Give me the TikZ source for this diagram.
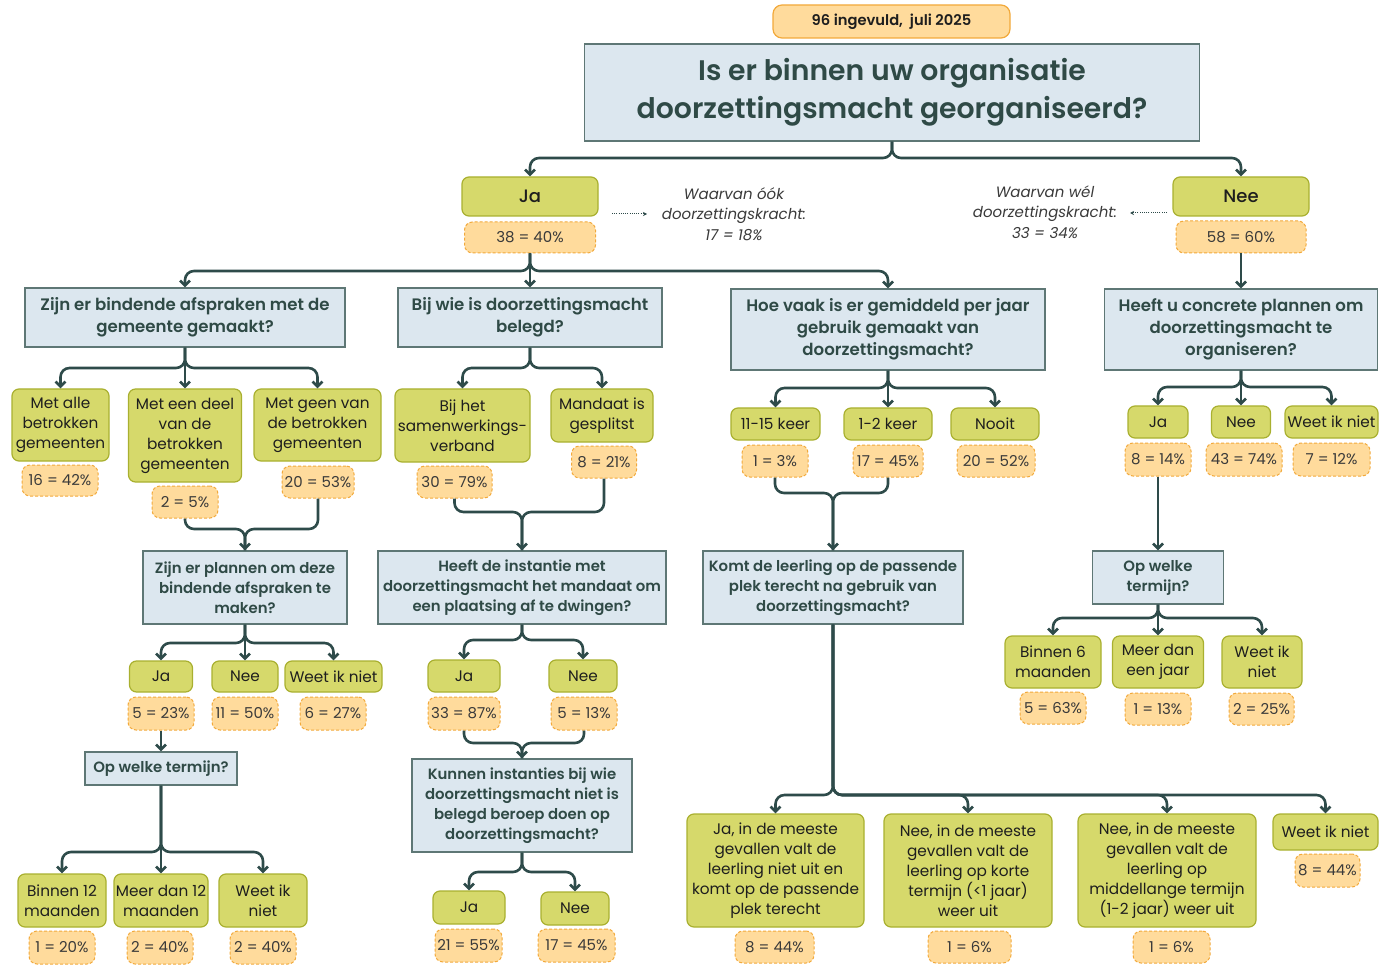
\documentclass[tikz,border=0pt]{standalone}
\usepackage{fontspec}
\setmainfont{Poppins}
\IfFontExistsTF{Poppins SemiBold}{\newfontfamily\mysemib{Poppins SemiBold}}{\newcommand\mysemib{\bfseries}}
\IfFontExistsTF{Poppins Medium}{\newfontfamily\mymed{Poppins Medium}}{\newcommand\mymed{\relax}}
\usetikzlibrary{arrows.meta}
\definecolor{qfill}{HTML}{DCE7EF}
\definecolor{qborder}{HTML}{5E7775}
\definecolor{qtext}{HTML}{2F4A46}
\definecolor{afill}{HTML}{D6D96B}
\definecolor{aborder}{HTML}{A9B030}
\definecolor{atext}{HTML}{1E1E1E}
\definecolor{pfill}{HTML}{FFDB9C}
\definecolor{pborder}{HTML}{F2A93B}
\definecolor{ptext}{HTML}{3A3A3A}
\definecolor{conncol}{HTML}{2E4B4A}
\definecolor{notetext}{HTML}{3A3A3A}
\newcommand\myq{\mysemib\fontsize{16.6}{22}\selectfont}
\newcommand\myqs{\mysemib\fontsize{14.9}{20}\selectfont}
\newcommand\mya{\fontsize{15.3}{20}\selectfont}
\newcommand\myp{\fontsize{15}{18}\selectfont}
\newcommand\myt{\mysemib\fontsize{28.3}{38}\selectfont}
\newcommand\myn{\itshape\fontsize{15}{20.5}\selectfont}
\newcommand\myj{\mymed\fontsize{18}{22}\selectfont}
\newcommand\myi{\mysemib\fontsize{14.7}{18}\selectfont}
\begin{document}
\begin{tikzpicture}[x=1pt,y=-1pt,
  wh/.style 2 args={minimum width=#1pt,minimum height=#2pt},
  q/.style={draw=qborder,fill=qfill,line width=1.3pt,text=qtext,font=\myq,align=center,inner sep=0pt},
  qs/.style={q,font=\myqs},
  ans/.style={draw=aborder,fill=afill,line width=1.2pt,rounded corners=7pt,text=atext,font=\mya,align=center,inner sep=0pt},
  pct/.style={draw=pborder,fill=pfill,line width=1pt,dash pattern=on 3pt off 2pt,rounded corners=8pt,text=ptext,font=\myp,inner sep=0pt},
  info/.style={draw=pborder,fill=pfill,line width=1.2pt,rounded corners=9pt,text=atext,font=\myi,inner sep=0pt},
  note/.style={text=notetext,font=\myn,align=center,inner sep=0pt},
  conn/.style={draw=conncol,line width=2.6pt,rounded corners=9pt},
  arr/.style={conn,-{Straight Barb[length=5pt,width=10pt]}},
  dotarr/.style={draw=conncol,line width=1pt,dash pattern=on 1pt off 1.2pt,-{Stealth[length=4pt,width=4pt]}}]
\useasboundingbox (0,0) rectangle (1379,965);

% top
\node[info,wh={237}{33}] (info) at (891.5,21.5) {96 ingevuld,\ \ juli 2025};
\node[q,wh={615}{97},font=\myt] (title) at (892,92.5) {Is er binnen uw organisatie\\doorzettingsmacht georganiseerd?};
\node[ans,wh={136}{39},font=\myj] (ja) at (530,196.5) {Ja};
\node[pct,wh={131}{31}] (japct) at (530,237.5) {38 = 40\%};
\node[ans,wh={136}{39},font=\myj] (nee) at (1241,196.5) {Nee};
\node[pct,wh={130}{32}] (neepct) at (1241,237) {58 = 60\%};
\node[note] (janote) at (734,214) {Waarvan óók\\doorzettingskracht:\\17 = 18\%};
\node[note] (neenote) at (1045,212) {Waarvan wél\\doorzettingskracht:\\33 = 34\%};
\coordinate (jaA) at (612,214);
\coordinate (jaB) at (647,214);
\coordinate (neeA) at (1167,213);
\coordinate (neeB) at (1130,213);
\draw[dotarr] (jaA) -- (jaB);
\draw[dotarr] (neeA) -- (neeB);

% level 2 questions
\node[q,wh={320}{59}] (q1) at (185,317.5) {Zijn er bindende afspraken met de\\gemeente gemaakt?};
\node[q,wh={264}{59}] (q2) at (530,317.5) {Bij wie is doorzettingsmacht\\belegd?};
\node[q,wh={314}{81}] (q3) at (888,329.5) {Hoe vaak is er gemiddeld per jaar\\gebruik gemaakt van\\doorzettingsmacht?};
\node[q,wh={273}{81}] (q4) at (1241,329.5) {Heeft u concrete plannen om\\doorzettingsmacht te\\organiseren?};

% Q1 answers
\node[ans,wh={97}{72}] (a1a) at (60.5,425) {Met alle\\betrokken\\gemeenten};
\node[pct,wh={76}{31}] (p1a) at (60,480.5) {16 = 42\%};
\node[ans,wh={113}{93}] (a1b) at (185,435.5) {Met een deel\\van de\\betrokken\\gemeenten};
\node[pct,wh={66}{32}] (p1b) at (185,502) {2 = 5\%};
\node[ans,wh={127}{72}] (a1c) at (317.5,425) {Met geen van\\de betrokken\\gemeenten};
\node[pct,wh={72}{32}] (p1c) at (318,482) {20 = 53\%};

% Q5
\node[qs,wh={204}{73}] (q5) at (245,587.5) {Zijn er plannen om deze\\bindende afspraken te\\maken?};
\node[ans,wh={63}{31}] (a5a) at (161,676.5) {Ja};
\node[pct,wh={66}{33}] (p5a) at (161,713.5) {5 = 23\%};
\node[ans,wh={66}{31}] (a5b) at (245,676.5) {Nee};
\node[pct,wh={66}{33}] (p5b) at (245,713.5) {11 = 50\%};
\node[ans,wh={97}{31}] (a5c) at (333.5,676.5) {Weet ik niet};
\node[pct,wh={66}{33}] (p5c) at (333,713.5) {6 = 27\%};

% Q6
\node[qs,wh={152}{33}] (q6) at (161,768.5) {Op welke termijn?};
\node[ans,wh={88}{53}] (a6a) at (62,900.5) {Binnen 12\\maanden};
\node[pct,wh={66}{33}] (p6a) at (62,947.5) {1 = 20\%};
\node[ans,wh={94}{53}] (a6b) at (161,900.5) {Meer dan 12\\maanden};
\node[pct,wh={66}{33}] (p6b) at (160,947.5) {2 = 40\%};
\node[ans,wh={88}{53}] (a6c) at (263,900.5) {Weet ik\\niet};
\node[pct,wh={66}{33}] (p6c) at (263,947.5) {2 = 40\%};

% Q2 answers
\node[ans,wh={135}{73}] (a2a) at (462.5,425.5) {Bij het\\samenwerkings-\\verband};
\node[pct,wh={75}{32}] (p2a) at (454.5,482) {30 = 79\%};
\node[ans,wh={102}{53}] (a2b) at (602,415.5) {Mandaat is\\gesplitst};
\node[pct,wh={65}{32}] (p2b) at (604,462) {8 = 21\%};

% Q7
\node[qs,wh={288}{73}] (q7) at (522,587.5) {Heeft de instantie met\\doorzettingsmacht het mandaat om\\een plaatsing af te dwingen?};
\node[ans,wh={72}{32}] (a7a) at (464,676) {Ja};
\node[pct,wh={72}{33}] (p7a) at (464,713.5) {33 = 87\%};
\node[ans,wh={68}{32}] (a7b) at (583,676) {Nee};
\node[pct,wh={66}{33}] (p7b) at (584,713.5) {5 = 13\%};

% Q8
\node[qs,wh={220}{93}] (q8) at (522,805.5) {Kunnen instanties bij wie\\doorzettingsmacht niet is\\belegd beroep doen op\\doorzettingsmacht?};
\node[ans,wh={72}{33}] (a8a) at (469,907.5) {Ja};
\node[pct,wh={67}{33}] (p8a) at (468.5,945.5) {21 = 55\%};
\node[ans,wh={68}{33}] (a8b) at (575,908.5) {Nee};
\node[pct,wh={77}{33}] (p8b) at (576.5,945.5) {17 = 45\%};

% Q3 answers
\node[ans,wh={89}{32}] (a3a) at (775.5,424) {11-15 keer};
\node[pct,wh={66}{32}] (p3a) at (775,461) {1 = 3\%};
\node[ans,wh={88}{32}] (a3b) at (888,424) {1-2 keer};
\node[pct,wh={70}{32}] (p3b) at (888,461) {17 = 45\%};
\node[ans,wh={88}{32}] (a3c) at (995,424) {Nooit};
\node[pct,wh={78}{32}] (p3c) at (996,461) {20 = 52\%};

% Q9
\node[qs,wh={260}{73}] (q9) at (833,587.5) {Komt de leerling op de passende\\plek terecht na gebruik van\\doorzettingsmacht?};
\node[ans,wh={177}{113}] (a9a) at (775.5,870.5) {Ja, in de meeste\\gevallen valt de\\leerling niet uit en\\komt op de passende\\plek terecht};
\node[pct,wh={79}{32}] (p9a) at (774.5,947) {8 = 44\%};
\node[ans,wh={168}{113}] (a9b) at (968,870.5) {Nee, in de meeste\\gevallen valt de\\leerling op korte\\termijn (<1 jaar)\\weer uit};
\node[pct,wh={83}{32}] (p9b) at (969.5,947) {1 = 6\%};
\node[ans,wh={178}{113}] (a9c) at (1167,870.5) {Nee, in de meeste\\gevallen valt de\\leerling op\\middellange termijn\\(1-2 jaar) weer uit};
\node[pct,wh={77}{32}] (p9c) at (1171.5,947) {1 = 6\%};
\node[ans,wh={105}{36}] (a9d) at (1325.5,832) {Weet ik niet};
\node[pct,wh={65}{33}] (p9d) at (1327.5,870.5) {8 = 44\%};

% Q4 answers
\node[ans,wh={60}{32}] (a4a) at (1158,422) {Ja};
\node[pct,wh={66}{33}] (p4a) at (1158,459.5) {8 = 14\%};
\node[ans,wh={59}{32}] (a4b) at (1241,422) {Nee};
\node[pct,wh={76}{33}] (p4b) at (1244,459.5) {43 = 74\%};
\node[ans,wh={93}{32}] (a4c) at (1331.5,422) {Weet ik niet};
\node[pct,wh={77}{33}] (p4c) at (1331.5,459.5) {7 = 12\%};

% Q10
\node[qs,wh={131}{53}] (q10) at (1158,577.5) {Op welke\\termijn?};
\node[ans,wh={96}{52}] (a10a) at (1053,662) {Binnen 6\\maanden};
\node[pct,wh={66}{32}] (p10a) at (1053,708) {5 = 63\%};
\node[ans,wh={91}{52}] (a10b) at (1158,662) {Meer dan\\een jaar};
\node[pct,wh={66}{32}] (p10b) at (1158,709) {1 = 13\%};
\node[ans,wh={80}{52}] (a10c) at (1262,662) {Weet ik\\niet};
\node[pct,wh={65}{32}] (p10c) at (1261.5,709) {2 = 25\%};

% ---------- connectors ----------
\coordinate (j0) at (892,158);
\draw[arr] (title.south) -- (j0) -- (j0 -| ja.north) -- (ja.north);
\draw[arr] (title.south) -- (j0) -- (j0 -| nee.north) -- (nee.north);

\coordinate (jj) at (530,271);
\draw[arr] (japct.south) -- (jj) -- (jj -| q1.north) -- (q1.north);
\draw[arr] (japct.south) -- (q2.north);
\draw[arr] (japct.south) -- (jj) -- (jj -| q3.north) -- (q3.north);
\draw[arr] (neepct.south) -- (q4.north);

\coordinate (j1) at (185,368);
\draw[arr] (q1.south) -- (j1) -- (j1 -| a1a.north) -- (a1a.north);
\draw[arr] (q1.south) -- (a1b.north);
\draw[arr] (q1.south) -- (j1) -- (j1 -| a1c.north) -- (a1c.north);

\coordinate (j2) at (530,368);
\draw[arr] (q2.south) -- (j2) -- (j2 -| a2a.north) -- (a2a.north);
\draw[arr] (q2.south) -- (j2) -- (j2 -| a2b.north) -- (a2b.north);

\coordinate (j3) at (888,388);
\draw[arr] (q3.south) -- (j3) -- (j3 -| a3a.north) -- (a3a.north);
\draw[arr] (q3.south) -- (a3b.north);
\draw[arr] (q3.south) -- (j3) -- (j3 -| a3c.north) -- (a3c.north);

\coordinate (j4) at (1241,387);
\draw[arr] (q4.south) -- (j4) -- (j4 -| a4a.north) -- (a4a.north);
\draw[arr] (q4.south) -- (a4b.north);
\draw[arr] (q4.south) -- (j4) -- (j4 -| a4c.north) -- (a4c.north);

\coordinate (m1) at (245,529);
\draw[conn] (p1b.south) -- (p1b.south |- m1) -- (m1) -- (q5.north);
\draw[arr] (p1c.south) -- (p1c.south |- m1) -- (m1) -- (q5.north);

\coordinate (j5) at (245,643);
\draw[arr] (q5.south) -- (j5) -- (j5 -| a5a.north) -- (a5a.north);
\draw[arr] (q5.south) -- (a5b.north);
\draw[arr] (q5.south) -- (j5) -- (j5 -| a5c.north) -- (a5c.north);
\draw[arr] (p5a.south) -- (q6.north);

\coordinate (j6) at (161,852);
\draw[arr] (q6.south) -- (j6) -- (j6 -| a6a.north) -- (a6a.north);
\draw[arr] (q6.south) -- (a6b.north);
\draw[arr] (q6.south) -- (j6) -- (j6 -| a6c.north) -- (a6c.north);

\coordinate (m2) at (522,512);
\draw[conn] (p2a.south) -- (p2a.south |- m2) -- (m2) -- (q7.north);
\draw[arr] (p2b.south) -- (p2b.south |- m2) -- (m2) -- (q7.north);

\coordinate (j7) at (522,640);
\draw[arr] (q7.south) -- (j7) -- (j7 -| a7a.north) -- (a7a.north);
\draw[arr] (q7.south) -- (j7) -- (j7 -| a7b.north) -- (a7b.north);

\coordinate (m3) at (522,743);
\draw[conn] (p7a.south) -- (p7a.south |- m3) -- (m3) -- (q8.north);
\draw[arr] (p7b.south) -- (p7b.south |- m3) -- (m3) -- (q8.north);

\coordinate (j8) at (522,872);
\draw[arr] (q8.south) -- (j8) -- (j8 -| a8a.north) -- (a8a.north);
\draw[arr] (q8.south) -- (j8) -- (j8 -| a8b.north) -- (a8b.north);

\coordinate (m4) at (833,493);
\draw[conn] (p3a.south) -- (p3a.south |- m4) -- (m4) -- (q9.north);
\draw[arr] (p3b.south) -- (p3b.south |- m4) -- (m4) -- (q9.north);

\coordinate (j9) at (833,795);
\draw[arr] (q9.south) -- (j9) -- (j9 -| a9a.north) -- (a9a.north);
\draw[arr] (q9.south) -- (j9) -- (j9 -| a9b.north) -- (a9b.north);
\draw[arr] (q9.south) -- (j9) -- (j9 -| a9c.north) -- (a9c.north);
\draw[arr] (q9.south) -- (j9) -- (j9 -| a9d.north) -- (a9d.north);

\draw[arr] (p4a.south) -- (q10.north);
\coordinate (j10) at (1158,618);
\draw[arr] (q10.south) -- (j10) -- (j10 -| a10a.north) -- (a10a.north);
\draw[arr] (q10.south) -- (a10b.north);
\draw[arr] (q10.south) -- (j10) -- (j10 -| a10c.north) -- (a10c.north);
\end{tikzpicture}
\end{document}
